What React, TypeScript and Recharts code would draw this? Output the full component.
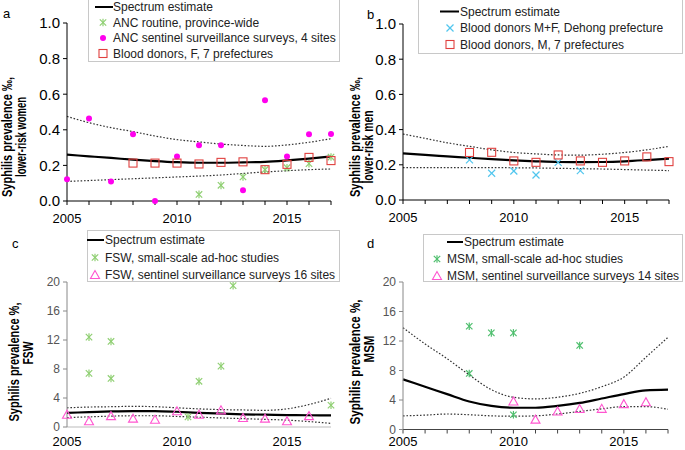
import React from "react";
import { ComposedChart, Line, Scatter, XAxis, YAxis } from "recharts";

const years = [2005, 2006, 2007, 2008, 2009, 2010, 2011, 2012, 2013, 2014, 2015, 2016, 2017];
const yearLabels = [2005, 2010, 2015];

// panel a: lower-risk women (per mille)
const aSpectrum = [0.26, 0.251, 0.242, 0.232, 0.224, 0.218, 0.215, 0.215, 0.217, 0.22, 0.228, 0.238, 0.25];
const aUpper = [0.475, 0.44, 0.412, 0.39, 0.365, 0.345, 0.332, 0.32, 0.312, 0.307, 0.315, 0.33, 0.35];
const aLower = [0.11, 0.115, 0.12, 0.125, 0.13, 0.135, 0.14, 0.146, 0.155, 0.163, 0.17, 0.176, 0.18];
const aAncRoutine = [
  [2011, 0.037], [2012, 0.088], [2013, 0.135], [2014, 0.176], [2015, 0.187], [2016, 0.21], [2017, 0.247],
];
const aAncSentinel = [
  [2005, 0.122], [2006, 0.463], [2007, 0.11], [2008, 0.375], [2009, 0.0], [2010, 0.25], [2011, 0.313],
  [2012, 0.313], [2013, 0.06], [2014, 0.566], [2015, 0.25], [2016, 0.375], [2017, 0.376],
];
const aBloodF = [
  [2008, 0.213], [2009, 0.213], [2010, 0.213], [2011, 0.208], [2012, 0.217], [2013, 0.22],
  [2014, 0.176], [2015, 0.206], [2016, 0.245], [2017, 0.227],
];

// panel b: lower-risk men (per mille)
const bSpectrum = [0.265, 0.256, 0.248, 0.24, 0.232, 0.225, 0.22, 0.216, 0.215, 0.216, 0.22, 0.227, 0.235];
const bUpper = [0.375, 0.35, 0.325, 0.305, 0.285, 0.27, 0.262, 0.256, 0.255, 0.26, 0.27, 0.285, 0.305];
const bLower = [0.184, 0.184, 0.184, 0.184, 0.184, 0.183, 0.182, 0.18, 0.178, 0.176, 0.173, 0.17, 0.167];
const bBloodDehong = [
  [2008, 0.228], [2009, 0.152], [2010, 0.165], [2011, 0.142], [2012, 0.214], [2013, 0.167],
];
const bBloodM = [
  [2008, 0.27], [2009, 0.271], [2010, 0.222], [2011, 0.214], [2012, 0.256], [2013, 0.222],
  [2014, 0.214], [2015, 0.222], [2016, 0.245], [2017, 0.218],
];

// panel c: FSW (%)
const cSpectrum = [1.95, 2.05, 2.15, 2.2, 2.2, 2.1, 1.95, 1.85, 1.75, 1.7, 1.65, 1.62, 1.6];
const cUpper = [2.65, 2.75, 2.8, 2.85, 2.8, 2.65, 2.5, 2.4, 2.35, 2.3, 2.5, 3.1, 3.95];
const cLower = [1.3, 1.4, 1.5, 1.55, 1.55, 1.45, 1.35, 1.25, 1.15, 1.05, 0.95, 0.75, 0.5];
const cAdhoc = [
  [2006, 12.4], [2006, 7.4], [2007, 11.8], [2007, 6.7], [2010.5, 1.4], [2011, 6.3], [2012, 8.4],
  [2012.55, 19.5], [2017, 3.0],
];
const cSentinel = [
  [2005, 1.7], [2006, 0.8], [2007, 1.5], [2008, 1.15], [2009, 1.0], [2010, 2.17], [2011, 1.7],
  [2012, 2.3], [2013, 1.25], [2014, 1.15], [2015, 0.8], [2016, 1.5],
];

// panel d: MSM (%)
const dSpectrum = [6.8, 5.8, 4.8, 3.8, 3.2, 2.95, 2.95, 3.2, 3.6, 4.2, 4.8, 5.3, 5.4];
const dUpper = [13.8, 11.6, 9.6, 7.4, 5.4, 4.37, 4.15, 4.37, 4.9, 5.8, 7.1, 9.8, 12.5];
const dLower = [1.85, 1.95, 2.1, 2.0, 1.85, 1.8, 1.85, 2.1, 2.45, 2.8, 3.1, 3.1, 2.75];
const dAdhoc = [
  [2008, 14.0], [2008, 7.6], [2009, 13.1], [2010, 13.1], [2010, 2.0], [2013, 11.4],
];
const dSentinel = [
  [2010, 3.8], [2011, 1.34], [2012, 2.45], [2013, 2.77], [2014, 2.8], [2015, 3.44], [2016, 3.7],
];

const lowTicks = [0, 0.2, 0.4, 0.6, 0.8, 1.0];
const highTicks = [0, 4, 8, 12, 16, 20];

const FONT = "'Liberation Sans', Arial, sans-serif";

const toLine = (vals: number[]) => years.map((x, i) => ({ x, y: vals[i] }));
const toPts = (pts: number[][]) => pts.map(([x, y]) => ({ x, y }));

const asterisk = (color: string) => (p: any) => {
  const { cx, cy } = p;
  const s = 3.2;
  return (
    <g stroke={color} strokeWidth={1.2}>
      <line x1={cx - s} y1={cy - s} x2={cx + s} y2={cy + s} />
      <line x1={cx - s} y1={cy + s} x2={cx + s} y2={cy - s} />
      <line x1={cx} y1={cy - s - 0.6} x2={cx} y2={cy + s + 0.6} />
    </g>
  );
};
const cross = (color: string) => (p: any) => {
  const { cx, cy } = p;
  const s = 3.5;
  return (
    <g stroke={color} strokeWidth={1.2}>
      <line x1={cx - s} y1={cy - s} x2={cx + s} y2={cy + s} />
      <line x1={cx - s} y1={cy + s} x2={cx + s} y2={cy - s} />
    </g>
  );
};
const dot = (color: string) => (p: any) => <circle cx={p.cx} cy={p.cy} r={3} fill={color} />;
const square = (color: string) => (p: any) => (
  <rect x={p.cx - 4} y={p.cy - 4} width={8} height={8} fill="none" stroke={color} strokeWidth={1.1} />
);
const triangle = (color: string) => (p: any) => {
  const { cx, cy } = p;
  return (
    <polygon
      points={`${cx},${cy - 4.5} ${cx - 4.5},${cy + 3.5} ${cx + 4.5},${cy + 3.5}`}
      fill="none"
      stroke={color}
      strokeWidth={1.1}
    />
  );
};

const makeYearTick = (dy: number) => (props: any) => {
  const { x, y, payload } = props;
  if (!yearLabels.includes(payload.value)) return <g />;
  return (
    <text x={x} y={y} dy={dy} textAnchor="middle" fontSize={13} fill="#000" fontFamily={FONT}>
      {payload.value}
    </text>
  );
};

type Item = { label: string; kind: string; color: string };

function LegendBox(props: {
  items: Item[];
  left: number;
  top: number;
  width: number;
  height: number;
  row: number;
  first: number;
  lineX: [number, number];
  markX: number;
  textX: number;
  lineTextX?: number;
}) {
  const { items, left, top, width, height, row, first, lineX, markX, textX } = props;
  const lineTextX = props.lineTextX ?? textX;
  return (
    <svg
      style={{ position: "absolute", left, top, overflow: "visible" }}
      width={width}
      height={height}
    >
      <rect x={0.5} y={0.5} width={width - 1} height={height - 1} fill="#fff" stroke="#c8c8c8" />
      {items.map((it, i) => {
        const cy = first + i * row;
        let icon: any = null;
        if (it.kind === "line") icon = <line x1={lineX[0]} x2={lineX[1]} y1={cy} y2={cy} stroke="#000" strokeWidth={2} />;
        if (it.kind === "asterisk") icon = asterisk(it.color)({ cx: markX, cy });
        if (it.kind === "cross") icon = cross(it.color)({ cx: markX, cy });
        if (it.kind === "dot") icon = dot(it.color)({ cx: markX, cy });
        if (it.kind === "square") icon = square(it.color)({ cx: markX, cy });
        if (it.kind === "triangle") icon = triangle(it.color)({ cx: markX, cy });
        return (
          <g key={it.label}>
            {icon}
            <text x={it.kind === "line" ? lineTextX : textX} y={cy + 4.3} fontSize={12} fill="#222" fontFamily={FONT}>
              {it.label}
            </text>
          </g>
        );
      })}
    </svg>
  );
}

type SeriesDef = { pts: number[][]; shape: any };

function Panel(props: {
  left: number;
  top: number;
  margin: any;
  yWidth: number;
  xHeight: number;
  yDomain: [number, number];
  yTicks: number[];
  yFmt: (v: number) => string;
  yFont: number;
  yColor: string;
  axisColor: string;
  xAxisColor: string;
  minorTicks: boolean;
  labelDy: number;
  spectrum: number[];
  upper: number[];
  lower: number[];
  series: SeriesDef[];
}) {
  const p = props;
  const Tick = makeYearTick(p.labelDy);
  return (
    <div style={{ position: "absolute", left: p.left, top: p.top }}>
      <ComposedChart width={345} height={225} margin={p.margin} style={{ overflow: "visible" }}>
        <XAxis
          type="number"
          dataKey="x"
          domain={[2005, 2017]}
          ticks={p.minorTicks ? years : yearLabels}
          tick={<Tick />}
          tickSize={p.minorTicks ? 4 : 0}
          tickMargin={2}
          height={p.xHeight}
          stroke={p.xAxisColor}
          interval={0}
        />
        <YAxis
          type="number"
          dataKey="y"
          domain={p.yDomain}
          ticks={p.yTicks}
          tickFormatter={p.yFmt}
          width={p.yWidth}
          tickSize={4}
          tickMargin={3}
          stroke={p.axisColor}
          tick={{ fontSize: p.yFont, fill: p.yColor, fontFamily: FONT }}
          interval={0}
        />
        <Line data={toLine(p.upper)} dataKey="y" type="monotone" stroke="#333" strokeWidth={1.2} strokeDasharray="1.6 1.8" dot={false} isAnimationActive={false} />
        <Line data={toLine(p.lower)} dataKey="y" type="monotone" stroke="#333" strokeWidth={1.2} strokeDasharray="1.6 1.8" dot={false} isAnimationActive={false} />
        <Line data={toLine(p.spectrum)} dataKey="y" type="monotone" stroke="#000" strokeWidth={2.2} dot={false} isAnimationActive={false} />
        {p.series.map((s, i) => (
          <Scatter key={i} data={toPts(s.pts)} dataKey="y" shape={s.shape} isAnimationActive={false} />
        ))}
      </ComposedChart>
    </div>
  );
}

const GREEN_LIGHT = "#8fcf72";
const GREEN_MID = "#4fbf6e";
const MAGENTA = "#ff00ee";
const RED = "#e0403e";
const BLUE = "#52c6ee";
const PINK = "#ff55d0";

export default function App() {
  const fmt1 = (v: number) => v.toFixed(1);
  const fmt0 = (v: number) => String(v);
  return (
    <div
      style={{
        position: "absolute",
        left: 0,
        top: 0,
        width: 685,
        height: 450,
        background: "#fff",
        overflow: "hidden",
        fontFamily: FONT,
      }}
    >
      <Panel
        left={0}
        top={0}
        margin={{ top: 23, right: 14, left: 0, bottom: 0 }}
        yWidth={67}
        xHeight={24}
        yDomain={[0, 1]}
        yTicks={lowTicks}
        yFmt={fmt1}
        yFont={15}
        yColor="#000"
        axisColor="#000"
        xAxisColor="#000"
        minorTicks
        labelDy={16}
        spectrum={aSpectrum}
        upper={aUpper}
        lower={aLower}
        series={[
          { pts: aAncRoutine, shape: asterisk(GREEN_LIGHT) },
          { pts: aAncSentinel, shape: dot(MAGENTA) },
          { pts: aBloodF, shape: square(RED) },
        ]}
      />
      <Panel
        left={340}
        top={0}
        margin={{ top: 24, right: 16, left: 0, bottom: 0 }}
        yWidth={63}
        xHeight={25}
        yDomain={[0, 1]}
        yTicks={lowTicks}
        yFmt={fmt1}
        yFont={15}
        yColor="#000"
        axisColor="#000"
        xAxisColor="#000"
        minorTicks
        labelDy={16}
        spectrum={bSpectrum}
        upper={bUpper}
        lower={bLower}
        series={[
          { pts: bBloodDehong, shape: cross(BLUE) },
          { pts: bBloodM, shape: square(RED) },
        ]}
      />
      <Panel
        left={0}
        top={225}
        margin={{ top: 57, right: 14, left: 0, bottom: 0 }}
        yWidth={67}
        xHeight={23}
        yDomain={[0, 20]}
        yTicks={highTicks}
        yFmt={fmt0}
        yFont={12}
        yColor="#555"
        axisColor="#888"
        xAxisColor="#bbb"
        minorTicks={false}
        labelDy={17}
        spectrum={cSpectrum}
        upper={cUpper}
        lower={cLower}
        series={[
          { pts: cAdhoc, shape: asterisk(GREEN_LIGHT) },
          { pts: cSentinel, shape: triangle(PINK) },
        ]}
      />
      <Panel
        left={340}
        top={225}
        margin={{ top: 57, right: 17, left: 0, bottom: 0 }}
        yWidth={63}
        xHeight={20.5}
        yDomain={[0, 20]}
        yTicks={highTicks}
        yFmt={fmt0}
        yFont={12}
        yColor="#555"
        axisColor="#888"
        xAxisColor="#444"
        minorTicks
        labelDy={10}
        spectrum={dSpectrum}
        upper={dUpper}
        lower={dLower}
        series={[
          { pts: dAdhoc, shape: asterisk(GREEN_MID) },
          { pts: dSentinel, shape: triangle(PINK) },
        ]}
      />

      <LegendBox
        left={88}
        top={-1}
        width={252}
        height={63}
        row={15.5}
        first={8}
        lineX={[7, 25]}
        markX={15}
        textX={25}
        items={[
          { label: "Spectrum estimate", kind: "line", color: "#000" },
          { label: "ANC routine, province-wide", kind: "asterisk", color: GREEN_LIGHT },
          { label: "ANC sentinel surveillance surveys, 4 sites", kind: "dot", color: MAGENTA },
          { label: "Blood donors, F, 7 prefectures", kind: "square", color: RED },
        ]}
      />
      <LegendBox
        left={418}
        top={-1}
        width={265}
        height={55}
        row={16.5}
        first={12.5}
        lineX={[22, 41]}
        markX={32}
        textX={42}
        items={[
          { label: "Spectrum estimate", kind: "line", color: "#000" },
          { label: "Blood donors M+F, Dehong prefecture", kind: "cross", color: BLUE },
          { label: "Blood donors, M, 7 prefectures", kind: "square", color: RED },
        ]}
      />
      <LegendBox
        left={87}
        top={230}
        width={253}
        height={52}
        row={17.5}
        first={10}
        lineX={[0, 17]}
        markX={8}
        textX={18}
        items={[
          { label: "Spectrum estimate", kind: "line", color: "#000" },
          { label: "FSW, small-scale ad-hoc studies", kind: "asterisk", color: GREEN_LIGHT },
          { label: "FSW, sentinel surveillance surveys 16 sites", kind: "triangle", color: PINK },
        ]}
      />
      <LegendBox
        left={423}
        top={234}
        width={260}
        height={48}
        row={17}
        first={8}
        lineX={[24, 40]}
        markX={14}
        textX={24}
        lineTextX={41}
        items={[
          { label: "Spectrum estimate", kind: "line", color: "#000" },
          { label: "MSM, small-scale ad-hoc studies", kind: "asterisk", color: GREEN_MID },
          { label: "MSM, sentinel surveillance surveys 14 sites", kind: "triangle", color: PINK },
        ]}
      />

      <svg style={{ position: "absolute", left: 0, top: 0, pointerEvents: "none" }} width={685} height={450}>
        <g fontFamily={FONT} fontSize={13} fill="#000">
          <text x={3} y={18}>a</text>
          <text x={367} y={19}>b</text>
          <text x={12} y={248}>c</text>
          <text x={367} y={248}>d</text>
        </g>
        <g fontFamily={FONT} fontSize={14} fontWeight="bold" fill="#000" textAnchor="middle">
          <text transform="translate(12,137) rotate(-90)" textLength={120} lengthAdjust="spacingAndGlyphs">Syphilis prevalence ‰,</text>
          <text transform="translate(25.5,137) rotate(-90)" textLength={80} lengthAdjust="spacingAndGlyphs">lower-risk women</text>
          <text transform="translate(360,137) rotate(-90)" textLength={120} lengthAdjust="spacingAndGlyphs">Syphilis prevalence ‰,</text>
          <text transform="translate(372.5,147) rotate(-90)" textLength={73} lengthAdjust="spacingAndGlyphs">lower-risk men</text>
          <text transform="translate(19,362) rotate(-90)" textLength={119} lengthAdjust="spacingAndGlyphs">Syphilis prevalence %,</text>
          <text transform="translate(32.5,353) rotate(-90)" textLength={23} lengthAdjust="spacingAndGlyphs">FSW</text>
          <text transform="translate(360,362) rotate(-90)" textLength={125} lengthAdjust="spacingAndGlyphs">Syphilis prevalence %,</text>
          <text transform="translate(373.5,349) rotate(-90)" textLength={27} lengthAdjust="spacingAndGlyphs">MSM</text>
        </g>
      </svg>
    </div>
  );
}
